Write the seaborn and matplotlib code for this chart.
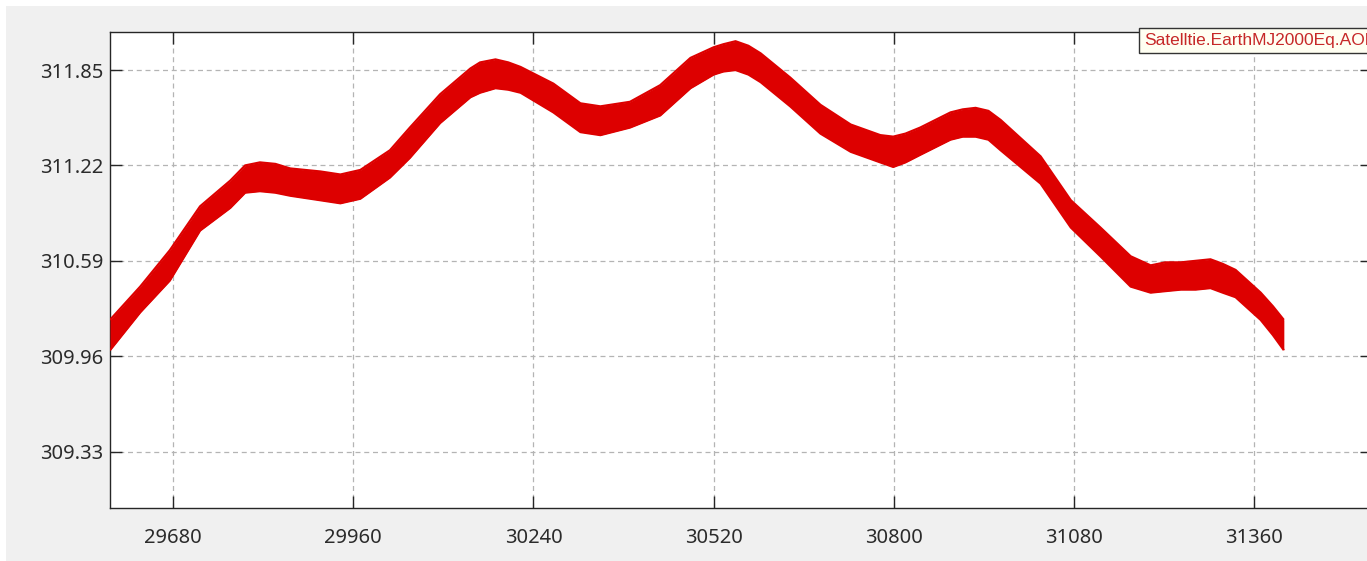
import matplotlib
matplotlib.use("Agg")
import matplotlib.pyplot as plt
import seaborn as sns
from matplotlib.patches import Rectangle

# envelope of the AOP band
x_vals = [29582, 29629, 29675, 29722, 29769, 29792, 29815, 29839, 29862, 29909,
          29940, 29971, 30017, 30048, 30095, 30142, 30157, 30181, 30201, 30220,
          30271, 30313, 30344, 30390, 30437, 30484, 30520, 30535, 30554, 30574,
          30593, 30639, 30686, 30733, 30779, 30799, 30818, 30841, 30888, 30907,
          30927, 30947, 30966, 31028, 31075, 31121, 31168, 31199, 31222, 31246,
          31269, 31292, 31311, 31331, 31370, 31389, 31406]
upper = [310.20, 310.42, 310.66, 310.95, 311.12, 311.22, 311.24, 311.23, 311.20, 311.18,
         311.16, 311.19, 311.32, 311.47, 311.69, 311.86, 311.90, 311.92, 311.90, 311.87,
         311.76, 311.63, 311.61, 311.64, 311.75, 311.93, 312.00, 312.02, 312.04, 312.01,
         311.96, 311.80, 311.62, 311.49, 311.42, 311.41, 311.43, 311.47, 311.57, 311.59,
         311.60, 311.58, 311.52, 311.28, 310.99, 310.81, 310.62, 310.56, 310.58, 310.58,
         310.59, 310.60, 310.57, 310.53, 310.38, 310.29, 310.20]
lower = [310.00, 310.25, 310.46, 310.79, 310.94, 311.04, 311.05, 311.04, 311.02, 310.99,
         310.97, 311.00, 311.14, 311.27, 311.50, 311.67, 311.70, 311.73, 311.72, 311.70,
         311.57, 311.44, 311.42, 311.47, 311.55, 311.73, 311.82, 311.84, 311.85, 311.82,
         311.77, 311.61, 311.43, 311.31, 311.24, 311.21, 311.24, 311.29, 311.39, 311.41,
         311.41, 311.39, 311.32, 311.10, 310.81, 310.62, 310.42, 310.38, 310.39, 310.40,
         310.40, 310.41, 310.38, 310.35, 310.20, 310.10, 310.00]

x_ticks = [29680, 29960, 30240, 30520, 30800, 31080, 31360]
y_ticks = [309.33, 309.96, 310.59, 311.22, 311.85]
legend_label = "Satelltie.EarthMJ2000Eq.AOP"

sns.set_theme(style="white")
plt.rcParams['font.family'] = ['Noto Sans', 'DejaVu Sans']

W, H = 1367, 561
fig = plt.figure(figsize=(W / 100, H / 100), dpi=100, facecolor="white")
fig.patches.append(Rectangle((6 / W, -0.01), 1.01, 1.01 - 6 / H, transform=fig.transFigure,
                             facecolor="#f0f0f0", edgecolor="none", zorder=-10))

ax = fig.add_axes([110 / W, 1 - 508.3 / H, (1372 - 110) / W, (508.3 - 32) / H])
ax.set_facecolor("white")

red = "#dd0000"
ax.fill_between(x_vals, lower, upper, color=red, linewidth=0, zorder=3)
for edge in (upper, lower):
    sns.lineplot(x=x_vals, y=edge, ax=ax, color=red, linewidth=1.6, zorder=3,
                 solid_joinstyle="round", solid_capstyle="butt")

ax.set_xlim(29582, 31543)
ax.set_ylim(308.956, 312.101)
ax.set_xticks(x_ticks)
ax.set_xticklabels([str(t) for t in x_ticks])
ax.set_yticks(y_ticks)
ax.set_yticklabels([f"{t:.2f}" for t in y_ticks])

ax.grid(True, color="#b4b4b4", linestyle=(0, (4, 3)), linewidth=0.9, zorder=1)
ax.set_axisbelow(True)
for s in ax.spines.values():
    s.set_color("#262626")
    s.set_linewidth(1.0)
    s.set_visible(True)

ax.tick_params(axis="both", which="major", direction="in", length=8.6, width=1.0,
               color="#262626", labelsize=14.5, labelcolor="#2b2b2b",
               top=True, right=True, bottom=True, left=True)
ax.tick_params(axis="x", pad=14)
ax.tick_params(axis="y", pad=5)
ax.set_xlabel("")
ax.set_ylabel("")

# legend box sits over the top-right corner and runs past the figure edge
fig.text(1144 / W, 1 - 40.5 / H, legend_label, color="#c62828", fontsize=12.5,
         family=["Liberation Sans", "DejaVu Sans"], va="center", ha="left", zorder=20,
         bbox=dict(boxstyle="square,pad=0.28", facecolor="#fffff2", edgecolor="#333333",
                   linewidth=1.0))

fig.savefig("out.png", dpi=100, facecolor=fig.get_facecolor())
